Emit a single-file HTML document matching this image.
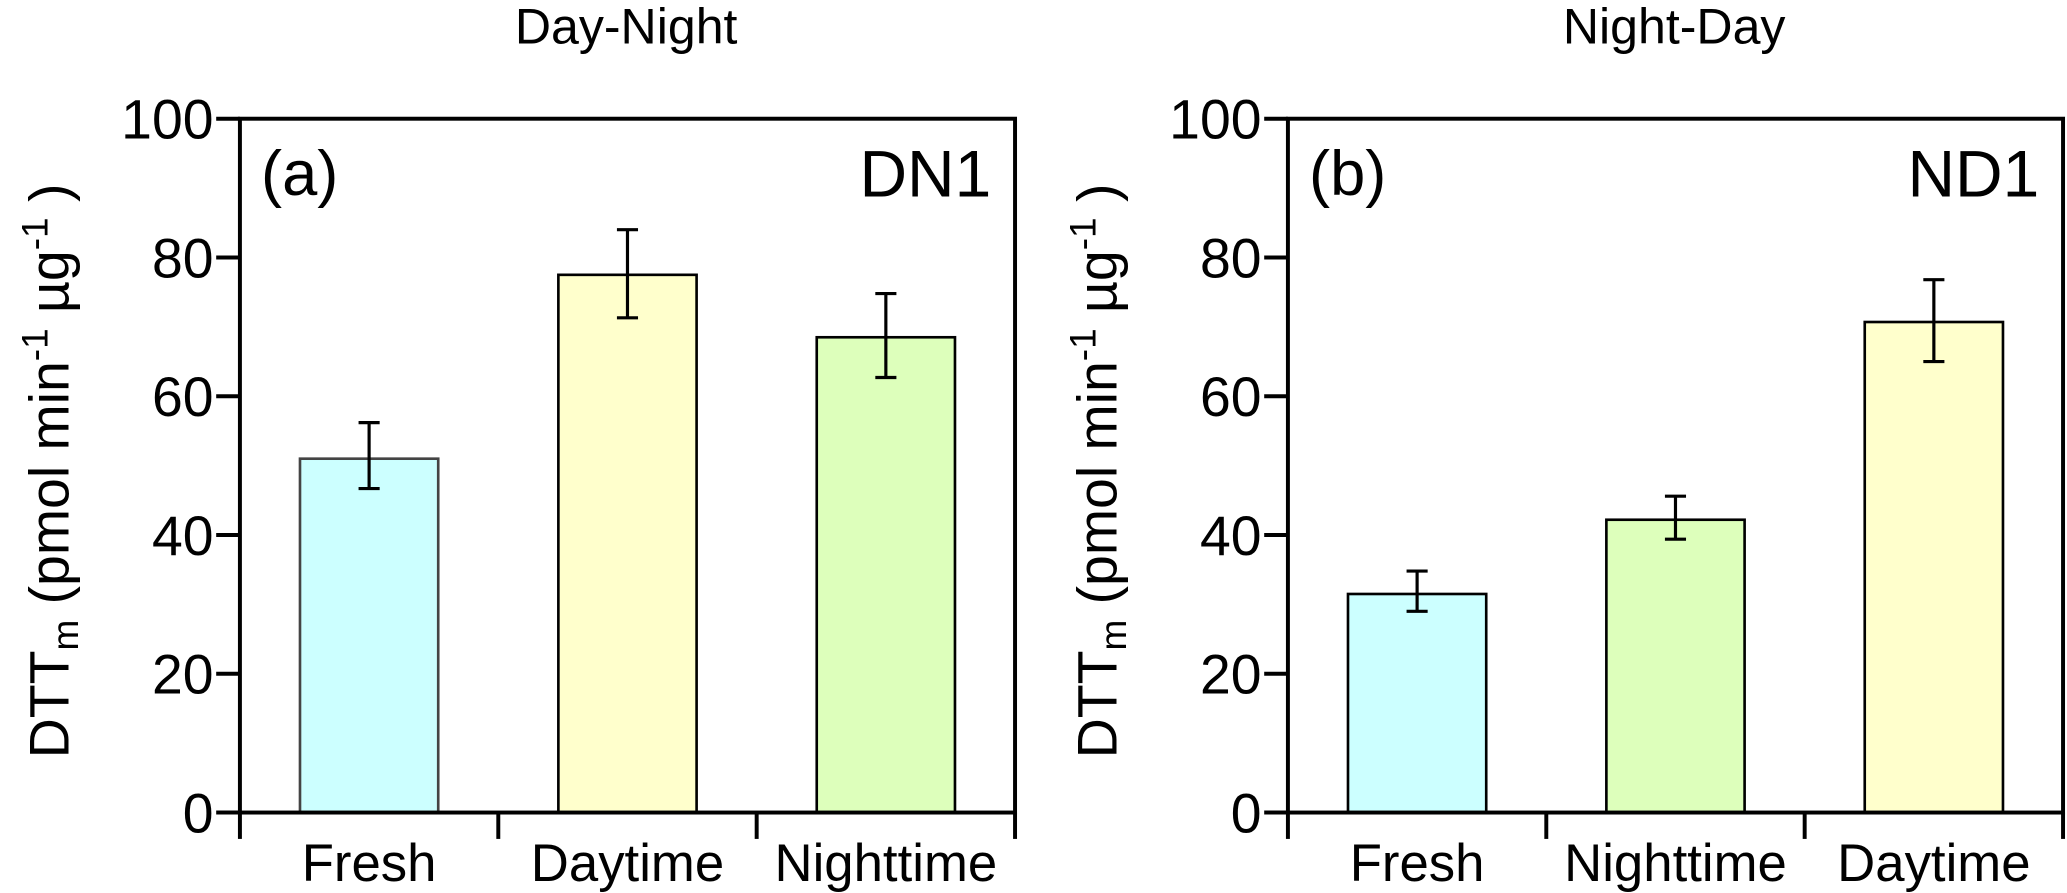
<!DOCTYPE html>
<html><head><meta charset="utf-8"><style>
html,body{margin:0;padding:0;background:#fff;}
svg{display:block;font-family:"Liberation Sans",Arial,sans-serif;}
</style></head><body>
<svg id="chart" width="2067" height="893" viewBox="0 0 1568 677" preserveAspectRatio="none" xmlns="http://www.w3.org/2000/svg"></svg>
<script>
const panelTitles = ["Day-Night", "Night-Day"];
const panelTags = ["(a)", "(b)"];
const panelIds = ["DN1", "ND1"];
const categoriesA = ["Fresh", "Daytime", "Nighttime"];
const valuesA = [51, 77.5, 68.5];
const errLowA = [46.7, 71.3, 62.7];
const errHighA = [56.2, 84, 74.8];
const categoriesB = ["Fresh", "Nighttime", "Daytime"];
const valuesB = [31.5, 42.2, 70.7];
const errLowB = [29, 39.4, 65];
const errHighB = [34.8, 45.6, 76.8];
const yTicks = [0, 20, 40, 60, 80, 100];
const colorMap = {Fresh: "#ccffff", Daytime: "#ffffcc", Nighttime: "#ddffbb"};

const NS = "http://www.w3.org/2000/svg";
const svg = document.getElementById("chart");
function mk(tag, attrs, parent) {
  const e = document.createElementNS(NS, tag);
  for (const k in attrs) e.setAttribute(k, attrs[k]);
  (parent || svg).appendChild(e);
  return e;
}
const panels = [
  {x0: 182, x1: 770, cats: categoriesA, vals: valuesA, lo: errLowA, hi: errHighA},
  {x0: 977, x1: 1565, cats: categoriesB, vals: valuesB, lo: errLowB, hi: errHighB}
];
const yTop = 90, yBot = 616, yMax = 100;
function yScale(v) { return yBot - (v / yMax) * (yBot - yTop); }

panels.forEach((p, pi) => {
  const g = mk("g", {});
  
  
  const w = p.x1 - p.x0, slot = w / p.cats.length, bw = slot * 0.535;
  const xScale = i => p.x0 + slot * (i + 0.5);

  const t = mk("text", {x: (p.x0 + p.x1) / 2 - 1, y: 33, "font-size": 38, "text-anchor": "middle"}, g);
  t.textContent = panelTitles[pi];
  
  

  p.cats.forEach((c, i) => {
    const cx = xScale(i);
    const r = mk("rect", {x: cx - bw / 2, y: yScale(p.vals[i]), width: bw, height: yScale(0) - yScale(p.vals[i]), fill: colorMap[c], stroke: (pi === 0 && i === 0) ? "#444" : "#000", "stroke-width": 2}, g);
    
    
    const eg = mk("g", {stroke: "#000", "stroke-width": 2.4}, g);
    
    
    mk("line", {x1: cx, x2: cx, y1: yScale(p.lo[i]), y2: yScale(p.hi[i])}, eg);
    mk("line", {x1: cx - 8, x2: cx + 8, y1: yScale(p.lo[i]), y2: yScale(p.lo[i])}, eg);
    mk("line", {x1: cx - 8, x2: cx + 8, y1: yScale(p.hi[i]), y2: yScale(p.hi[i])}, eg);
    const lab = mk("text", {x: cx, y: 668, "font-size": 40, "text-anchor": "middle"}, g);
    lab.textContent = c;
    
    
  });

  const fr = mk("rect", {x: p.x0, y: yTop, width: w, height: yBot - yTop, fill: "none", stroke: "#000", "stroke-width": 3}, g);
  
  

  yTicks.forEach(v => {
    const y = yScale(v);
    mk("line", {x1: p.x0 - 18, x2: p.x0, y1: y, y2: y, stroke: "#000", "stroke-width": 3}, g);
    const tl = mk("text", {x: p.x0 - 20, y: y + 15, "font-size": 42, "text-anchor": "end"}, g);
    tl.textContent = v;
    
    
  });
  for (let i = 0; i <= p.cats.length; i++) {
    const x = p.x0 + slot * i;
    mk("line", {x1: x, x2: x, y1: yBot, y2: yBot + 20, stroke: "#000", "stroke-width": 3}, g);
  }

  const tag = mk("text", {x: p.x0 + 16, y: 148, "font-size": 48}, g);
  tag.textContent = panelTags[pi];
  
  
  const id = mk("text", {x: p.x1 - 18, y: 149, "font-size": 50, "text-anchor": "end"}, g);
  id.textContent = panelIds[pi];
  
  

  const ax = p.x0 - 130;
  const yt = mk("text", {transform: "translate(" + ax + ",357) rotate(-90)", "font-size": 42, "text-anchor": "middle"}, g);
  
  
  yt.innerHTML = 'DTT<tspan font-size="28" dy="7">m</tspan><tspan dy="-7"> (pmol min</tspan><tspan font-size="28" dy="-16">-1</tspan><tspan dy="16"> µg</tspan><tspan font-size="28" dy="-16">-1</tspan><tspan dy="16"> )</tspan>';
});
</script>
</body></html>
